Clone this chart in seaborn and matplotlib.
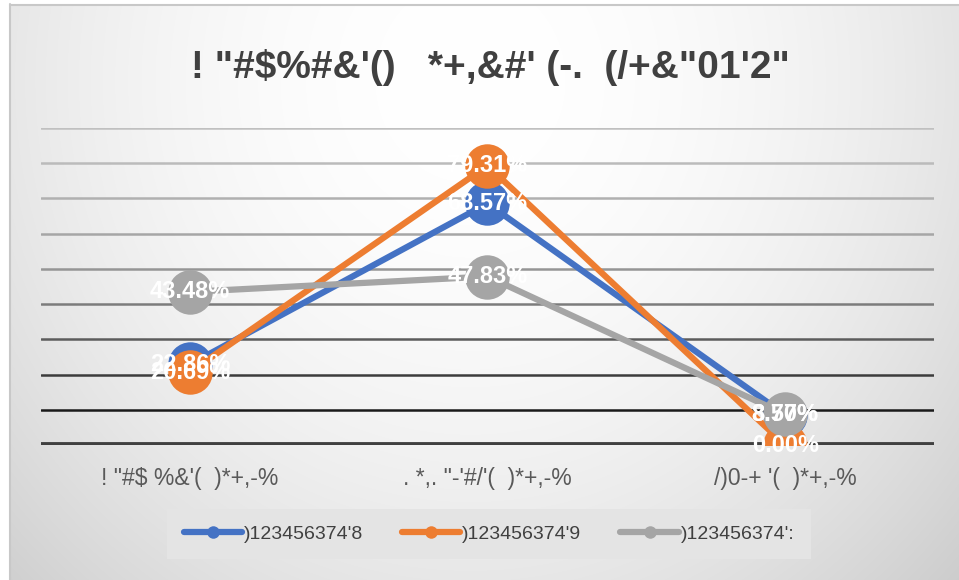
import numpy as np
import pandas as pd
import seaborn as sns
import matplotlib.pyplot as plt
from matplotlib.lines import Line2D

# ---- data ----
title = '! "#$%#&\'()   *+,&#\' (-.  (/+&"01\'2"'
categories = ['! "#$ %&\'(  )*+,-%', '. *,. "-\'#/\'(  )*+,-%', '/)0-+ \'(  )*+,-%']
series_names = [")123456374'8", ")123456374'9", ")123456374':"]
series1 = [0.2286, 0.6857, 0.0857]
series2 = [0.2069, 0.7931, 0.0000]
series3 = [0.4348, 0.4783, 0.0870]
y_max = 0.9
grid_values = [0.1, 0.2, 0.3, 0.4, 0.5, 0.6, 0.7, 0.8, 0.9]

colors = ['#4472C4', '#ED7D31', '#A5A5A5']

df = pd.DataFrame({
    'category': categories * 3,
    'value': series1 + series2 + series3,
    'series': [series_names[0]] * 3 + [series_names[1]] * 3 + [series_names[2]] * 3,
})

sns.set_theme(style='white')
fam = ['Liberation Sans', 'DejaVu Sans']

W, H = 959, 580
fig = plt.figure(figsize=(W / 100, H / 100), dpi=100)
fig.patch.set_facecolor('white')

# background gradient (styling)
bg = fig.add_axes([0, 0, 1, 1], zorder=-10)
xx, yy = np.meshgrid(np.arange(W), np.arange(H))
d2 = ((xx - 470) / 520.0) ** 2 + ((yy - 80) / 560.0) ** 2
v = np.clip(255 - 30 * d2, 200, 255) / 255.0
img = np.dstack([v, v, v])
img[:4, :, :] = 1.0
img[:, :9, :] = 1.0
bg.imshow(img, extent=(0, W, H, 0), aspect='auto', interpolation='bilinear')
bg.plot([9.5, 9.5], [4, H], color='#c8c8c8', lw=1.5)
bg.plot([9.5, W], [4.5, 4.5], color='#c8c8c8', lw=1.5)
bg.set_xlim(0, W)
bg.set_ylim(H, 0)
bg.axis('off')

# main axes
left, right = 41, 934
top, bottom = 128, 445
ax = fig.add_axes([left / W, 1 - bottom / H, (right - left) / W, (bottom - top) / H])
ax.patch.set_alpha(0)

grid_cols = ['#1a1a1a', '#3c3c3c', '#5c5c5c', '#7c7c7c', '#959595',
             '#a6a6a6', '#b0b0b0', '#bbbbbb', '#c0c0c0']
for gv, gc in zip(grid_values, grid_cols):
    ax.axhline(gv, color=gc, lw=1.8, zorder=1)
ax.axhline(0, color='#404040', lw=4.2, zorder=1)

sns.lineplot(data=df, x='category', y='value', hue='series', palette=colors,
             sort=False, marker='o', markersize=32, markeredgewidth=0,
             linewidth=4.5, legend=False, ax=ax, zorder=3)
for ln in ax.get_lines()[-3:]:
    ln.set_solid_capstyle('round')
    ln.set_solid_joinstyle('round')

# data labels
for vals in (series1, series2, series3):
    for i, val in enumerate(vals):
        ax.text(i, val, f'{val * 100:.2f}%', ha='center', va='center',
                color='white', fontsize=17, fontweight='bold', family=fam,
                zorder=5)

ax.set_xlim(-0.5, 2.5)
ax.set_ylim(0, y_max)
ax.set_xlabel('')
ax.set_ylabel('')
ax.set_yticks([])
ax.set_xticks(range(len(categories)))
ax.set_xticklabels(categories, fontsize=16.5, color='#595959', family=fam)
ax.tick_params(axis='x', length=0, pad=16)
for sp in ax.spines.values():
    sp.set_visible(False)

# title
fig.text(490 / W, 1 - 67 / H, title, ha='center', va='center', fontsize=28,
         fontweight='bold', color='#404040', family=fam)

# legend
handles = [Line2D([0], [0], color=c, lw=4.5, marker='o', markersize=9,
                  markeredgewidth=0, solid_capstyle='round') for c in colors]
leg = fig.legend(handles, series_names, loc='center', ncol=3,
                 bbox_to_anchor=(489 / W, 1 - 534 / H), frameon=True,
                 facecolor='#e4e4e4', edgecolor='none', fancybox=False,
                 handlelength=3.0, handletextpad=0.1, columnspacing=2.0,
                 borderpad=0.85, prop={'family': fam, 'size': 14},
                 labelcolor='#404040', numpoints=1)
leg.get_frame().set_alpha(1)

fig.savefig('out.png', dpi=100, facecolor=fig.get_facecolor())
